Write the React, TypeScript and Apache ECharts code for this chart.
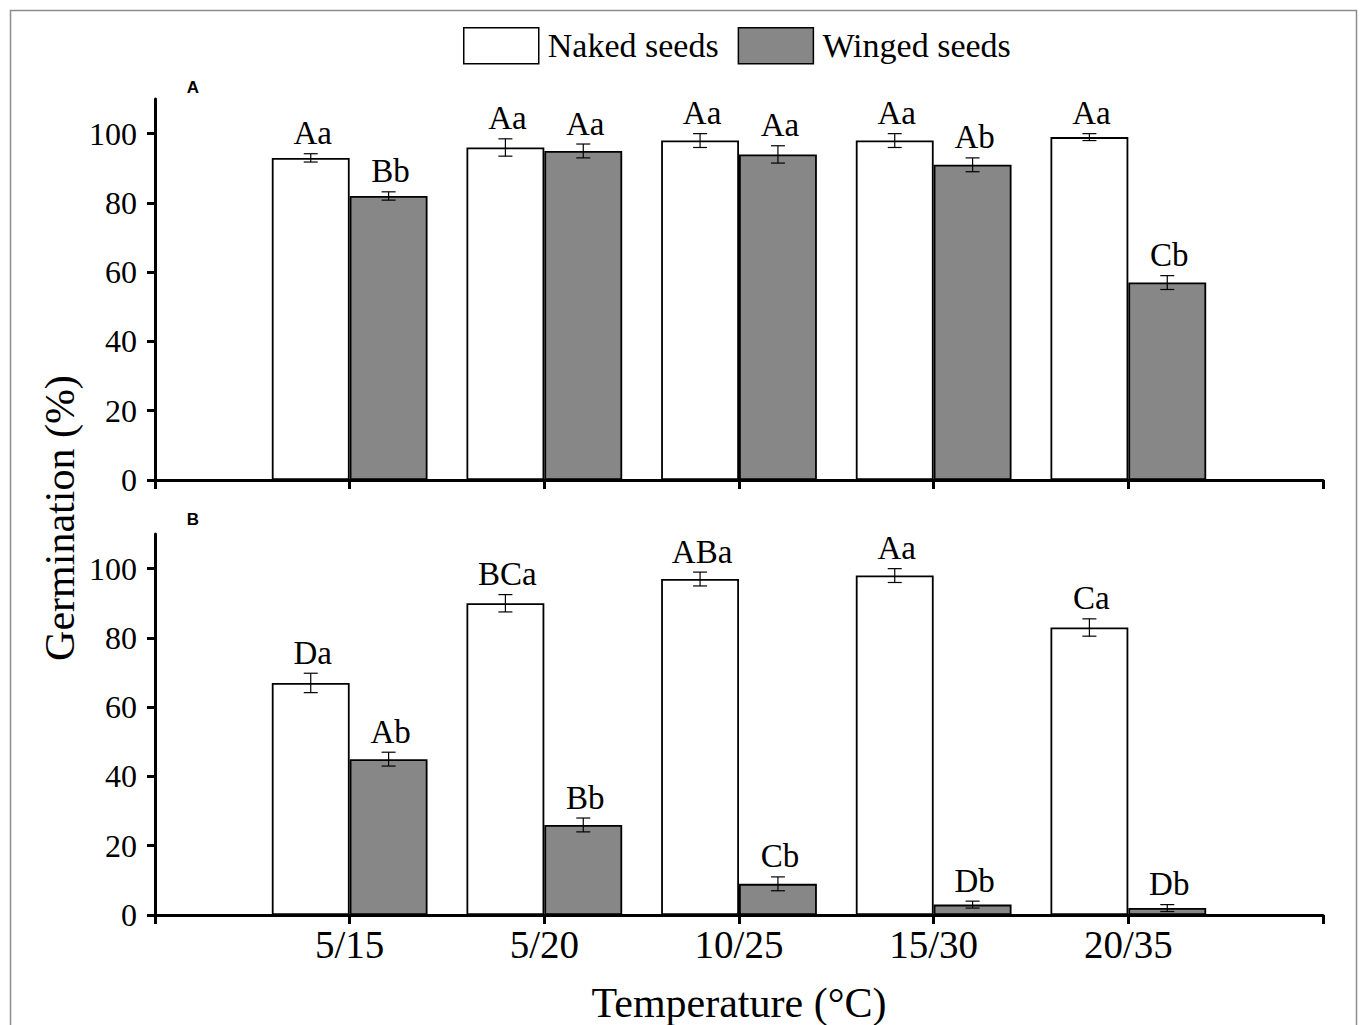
import React, { useEffect, useRef } from 'react';
import * as echarts from 'echarts';

const categories = ['5/15', '5/20', '10/25', '15/30', '20/35'];
const yTicks = [0, 20, 40, 60, 80, 100];

const nakedA = [93, 96, 98, 98, 99];
const nakedAErr = [1.2, 2.5, 2, 2, 1];
const nakedALabels = ['Aa', 'Aa', 'Aa', 'Aa', 'Aa'];
const wingedA = [82, 95, 94, 91, 57];
const wingedAErr = [1.2, 2, 2.5, 2, 2];
const wingedALabels = ['Bb', 'Aa', 'Aa', 'Ab', 'Cb'];

const nakedB = [67, 90, 97, 98, 83];
const nakedBErr = [2.8, 2.5, 2, 2, 2.5];
const nakedBLabels = ['Da', 'BCa', 'ABa', 'Aa', 'Ca'];
const wingedB = [45, 26, 9, 3, 2];
const wingedBErr = [2, 2, 2, 1, 1];
const wingedBLabels = ['Ab', 'Bb', 'Cb', 'Db', 'Db'];

const SERIF = 'Liberation Serif, Times New Roman, serif';
const GRAY = '#878787';

const axisCats = ['', ...categories, ''];
const pad = (arr: number[]) => ['-', ...arr, '-'];

function errSeries(values: number[], errs: number[], labels: string[], side: number, gi: number) {
  return {
    type: 'custom',
    xAxisIndex: gi,
    yAxisIndex: gi,
    z: 5,
    silent: true,
    data: values.map((v, i) => [i + 1, v, errs[i]]),
    renderItem: (params: any, api: any) => {
      const ci = api.value(0);
      const v = api.value(1);
      const e = api.value(2);
      const band = api.size([1, 0])[0];
      const cx = api.coord([ci, v])[0] + side * band * 0.2;
      const yTop = api.coord([ci, v + e])[1];
      const yBot = api.coord([ci, v - e])[1];
      const cap = 7;
      const st = { stroke: '#000', lineWidth: 1.2 };
      return {
        type: 'group',
        children: [
          { type: 'line', shape: { x1: cx, y1: yTop, x2: cx, y2: yBot }, style: st },
          { type: 'line', shape: { x1: cx - cap, y1: yTop, x2: cx + cap, y2: yTop }, style: st },
          { type: 'line', shape: { x1: cx - cap, y1: yBot, x2: cx + cap, y2: yBot }, style: st },
          {
            type: 'text',
            x: cx + 2,
            y: yTop - 4,
            style: {
              text: labels[params.dataIndex],
              fontFamily: SERIF,
              fontSize: 33,
              fill: '#000',
              align: 'center',
              verticalAlign: 'bottom',
            },
          },
        ],
      };
    },
  };
}

function barSeries(name: string, values: number[], color: string, gi: number) {
  return {
    type: 'bar',
    name,
    xAxisIndex: gi,
    yAxisIndex: gi,
    data: pad(values),
    barWidth: '40%',
    barGap: '0%',
    itemStyle: { color, borderColor: '#000', borderWidth: 1.8 },
  };
}

export default function App() {
  const ref = useRef<HTMLDivElement>(null);
  useEffect(() => {
    if (!ref.current) return;
    const chart = echarts.init(ref.current, undefined, { renderer: 'svg' });
    const axisLine = { show: true, lineStyle: { color: '#000', width: 3 } };
    const xAxisBase = (gi: number, showLabel: boolean) => ({
      type: 'category',
      gridIndex: gi,
      data: axisCats,
      boundaryGap: false,
      axisLine,
      axisTick: { show: true, interval: 0, length: 9, lineStyle: { color: '#000', width: 3 } },
      axisLabel: {
        show: showLabel,
        interval: 0,
        margin: 10,
        color: '#000',
        fontFamily: SERIF,
        fontSize: 39,
      },
      splitLine: { show: false },
    });
    const yAxisBase = (gi: number) => ({
      type: 'value',
      gridIndex: gi,
      min: 0,
      max: 110,
      interval: 20,
      axisLine,
      axisTick: { show: true, length: 8, customValues: yTicks, lineStyle: { color: '#000', width: 3 } },
      axisLabel: {
        margin: 18,
        color: '#000',
        fontFamily: SERIF,
        fontSize: 32,
        customValues: yTicks,
      },
      splitLine: { show: false },
    });
    chart.setOption({
      animation: false,
      backgroundColor: '#fff',
      legend: {
        left: 458,
        top: 22,
        itemWidth: 75,
        itemHeight: 36,
        itemGap: 19,
        icon: 'rect',
        data: ['Naked seeds', 'Winged seeds'],
        itemStyle: { borderColor: '#000', borderWidth: 1.5 },
        textStyle: { fontFamily: SERIF, fontSize: 34, color: '#000', padding: [0, 0, 0, 4] },
      },
      grid: [
        { left: 155, top: 99, width: 1168, height: 381 },
        { left: 155, top: 534, width: 1168, height: 381 },
      ],
      xAxis: [xAxisBase(0, false), xAxisBase(1, true)],
      yAxis: [yAxisBase(0), yAxisBase(1)],
      series: [
        barSeries('Naked seeds', nakedA, '#fff', 0),
        barSeries('Winged seeds', wingedA, GRAY, 0),
        barSeries('Naked seeds', nakedB, '#fff', 1),
        barSeries('Winged seeds', wingedB, GRAY, 1),
        errSeries(nakedA, nakedAErr, nakedALabels, -1, 0),
        errSeries(wingedA, wingedAErr, wingedALabels, 1, 0),
        errSeries(nakedB, nakedBErr, nakedBLabels, -1, 1),
        errSeries(wingedB, wingedBErr, wingedBLabels, 1, 1),
      ],
      graphic: [
        {
          type: 'rect',
          silent: true,
          z: -10,
          shape: { x: 10.5, y: 10.5, width: 1346, height: 1040 },
          style: { fill: 'none', stroke: '#8c8c8c', lineWidth: 1.5 },
        },
        {
          type: 'text',
          x: 193,
          y: 87,
          style: {
            text: 'A',
            fontFamily: 'Liberation Sans, Arial, sans-serif',
            fontWeight: 'bold',
            fontSize: 17,
            fill: '#000',
            align: 'center',
            verticalAlign: 'middle',
          },
        },
        {
          type: 'text',
          x: 193,
          y: 519,
          style: {
            text: 'B',
            fontFamily: 'Liberation Sans, Arial, sans-serif',
            fontWeight: 'bold',
            fontSize: 17,
            fill: '#000',
            align: 'center',
            verticalAlign: 'middle',
          },
        },
        {
          type: 'text',
          x: 60,
          y: 518,
          rotation: Math.PI / 2,
          style: {
            text: 'Germination (%)',
            fontFamily: SERIF,
            fontSize: 42,
            fill: '#000',
            align: 'center',
            verticalAlign: 'middle',
          },
        },
        {
          type: 'text',
          x: 739,
          y: 1003,
          style: {
            text: 'Temperature (°C)',
            fontFamily: SERIF,
            fontSize: 42,
            fill: '#000',
            align: 'center',
            verticalAlign: 'middle',
          },
        },
      ],
    });
    return () => chart.dispose();
  }, []);
  return (
    <div
      ref={ref}
      style={{ position: 'absolute', left: 0, top: 0, width: 1360, height: 1025 }}
    />
  );
}
